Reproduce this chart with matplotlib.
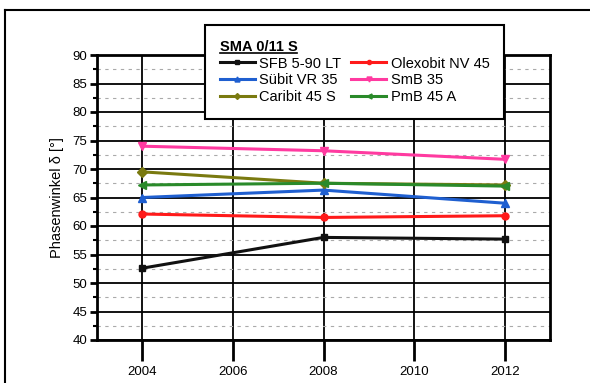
import matplotlib
matplotlib.use('Agg')
import matplotlib.pyplot as plt
from matplotlib.lines import Line2D
from matplotlib.ticker import MultipleLocator

plt.rcParams['font.family'] = ['Liberation Sans', 'DejaVu Sans']

# data
years = [2004, 2008, 2012]
names = ['SFB 5-90 LT', 'Olexobit NV 45', 'Sübit VR 35', 'SmB 35', 'Caribit 45 S', 'PmB 45 A']
sfb = [52.6, 58.0, 57.7]
olexobit = [62.1, 61.5, 61.8]
suebit = [65.0, 66.3, 64.0]
smb = [74.0, 73.2, 71.7]
caribit = [69.5, 67.5, 67.2]
pmb = [67.2, 67.5, 67.0]
series = [sfb, olexobit, suebit, smb, caribit, pmb]

colors = ['#111111', '#ff1a1a', '#1f5fd0', '#ff3aa0', '#7a7a10', '#2a8a2a']
markers = ['s', 'o', '^', 'v', 'D', '<']
msizes = [4, 5, 6, 6, 5, 6]

fig = plt.figure(figsize=(5.9, 3.83), dpi=100)
ax = fig.add_axes([97 / 590, 1 - 340 / 383, (550 - 97) / 590, (340 - 55) / 383])

handles = []
for vals, name, c, m, ms in zip(series, names, colors, markers, msizes):
    h, = ax.plot(years, vals, color=c, lw=2.2, marker=m, ms=ms, label=name, zorder=3)
    handles.append(h)

ax.set_xlim(2003, 2013)
ax.set_ylim(40, 90)
ax.xaxis.set_major_locator(MultipleLocator(2))
ax.yaxis.set_major_locator(MultipleLocator(5))
ax.yaxis.set_minor_locator(MultipleLocator(2.5))

ax.grid(True, which='major', color='black', lw=1.3, ls='-', zorder=1)
ax.grid(True, which='minor', axis='y', color='#aaaaaa', lw=0.8, ls=(0, (3, 4)), zorder=1)

for s in ax.spines.values():
    s.set_linewidth(2)

ax.tick_params(axis='x', which='major', direction='out', length=15, width=2, labelsize=9.5, pad=4)
ax.tick_params(axis='y', which='major', direction='out', length=5, width=2, labelsize=9.5, pad=2)
ax.tick_params(axis='y', which='minor', direction='out', length=3, width=1.5)
ax.tick_params(axis='x', which='minor', bottom=False)

ax.set_ylabel('Phasenwinkel δ [°]', fontsize=10.5, labelpad=6)

# legend is filled row by row in the original
order = [0, 2, 4, 1, 3, 5]
leg = ax.legend([handles[i] for i in order], [names[i] for i in order],
                loc='upper left', bbox_to_anchor=((205 - 97) / 453, 1 + 30 / 285),
                borderaxespad=0,
                ncol=2, frameon=True, fancybox=False, edgecolor='black',
                fontsize=10.5, title='SMA 0/11 S', title_fontsize=10.5,
                handlelength=2.4, handletextpad=0.3, columnspacing=0.7,
                labelspacing=0.2, borderpad=1.0, markerscale=0.6)
leg.get_frame().set_linewidth(1.5)
leg.get_frame().set_alpha(1)
leg._legend_box.align = 'left'
title = leg.get_title()
title.set_fontweight('bold')
leg.set_zorder(5)

# underline legend title
fig.canvas.draw()
bb = title.get_window_extent().transformed(fig.transFigure.inverted())
fig.add_artist(Line2D([bb.x0, bb.x1], [bb.y0 + 0.002, bb.y0 + 0.002], color='black', lw=1.2))

# page frame lines (top and left)
fig.add_artist(Line2D([5 / 590, 1], [1 - 10 / 383, 1 - 10 / 383], color='black', lw=1.5))
fig.add_artist(Line2D([5 / 590, 5 / 590], [0, 1 - 10 / 383], color='black', lw=1.5))

fig.savefig('out.png', dpi=100)
